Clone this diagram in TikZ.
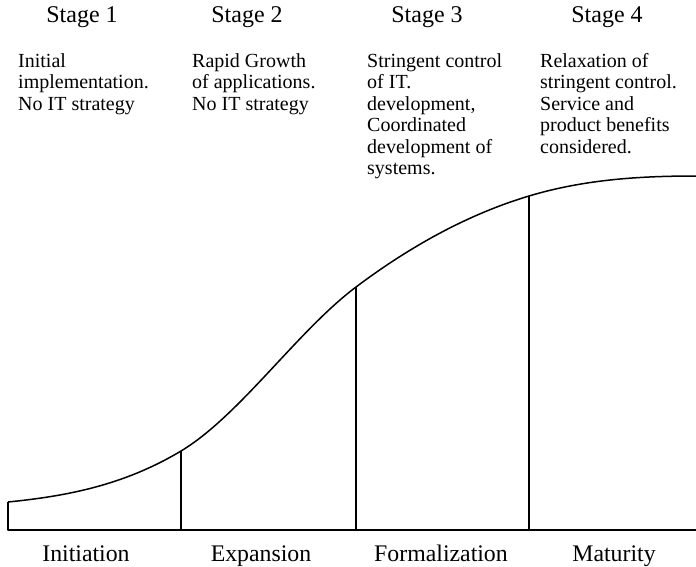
\documentclass[tikz,border=0pt]{standalone}
\usepackage{fontspec}
\setmainfont{Liberation Serif}
\begin{document}
\begin{tikzpicture}[x=1pt,y=-1pt,
  curve/.style={line width=1.5pt, line join=round},
  divider/.style={line width=1.4pt},
  stagetitle/.style={anchor=base, inner sep=0pt, font=\fontsize{24}{26}\selectfont},
  stagenote/.style={anchor=base west, inner sep=0pt, align=left, font=\fontsize{20}{21.5}\selectfont},
  phase/.style={anchor=base, inner sep=0pt, font=\fontsize{23.8}{26}\selectfont}]
\useasboundingbox (0,0) rectangle (696,566);

% stage headings
\node[stagetitle] (s1) at (82,22) {Stage 1};
\node[stagetitle] (s2) at (247,22) {Stage 2};
\node[stagetitle] (s3) at (427,22) {Stage 3};
\node[stagetitle] (s4) at (607,22) {Stage 4};

% stage descriptions (placed by the baseline of their last line)
\node[stagenote] (n1) at (18,110) {Initial\\implementation.\\No IT strategy};
\node[stagenote] (n2) at (192,110) {Rapid Growth\\of applications.\\No IT strategy};
\node[stagenote] (n3) at (367,174.5) {Stringent control\\of IT.\\development,\\Coordinated\\development of\\systems.};
\node[stagenote] (n4) at (540,153) {Relaxation of\\stringent control.\\Service and\\product benefits\\considered.};

% growth curve and axis
\coordinate (origin) at (8,530);
\coordinate (start) at (8,502);
\coordinate (axisend) at (696,530);
\coordinate (t1) at (181,451);
\coordinate (t2) at (356,287);
\coordinate (t3) at (529,196);
\coordinate (finish) at (696,176);
\coordinate (b1) at (181,530);
\coordinate (b2) at (356,530);
\coordinate (b3) at (529,530);

\draw[curve] (axisend) -- (origin) -- (start);
\draw[curve] (start)
  .. controls (65.7,496.2) and (123.3,485.6) .. (t1)
  .. controls (239.3,416.0) and (297.7,330.7) .. (t2)
  .. controls (413.7,243.7) and (471.3,213.3) .. (t3)
  .. controls (584.7,179.3) and (640.3,176) .. (finish);

\draw[divider] (t1) -- (b1);
\draw[divider] (t2) -- (b2);
\draw[divider] (t3) -- (b3);

% phase names
\node[phase] (p1) at (86,561) {Initiation};
\node[phase] (p2) at (261,561) {Expansion};
\node[phase] (p3) at (441,561) {Formalization};
\node[phase] (p4) at (614,561) {Maturity};
\end{tikzpicture}
\end{document}
